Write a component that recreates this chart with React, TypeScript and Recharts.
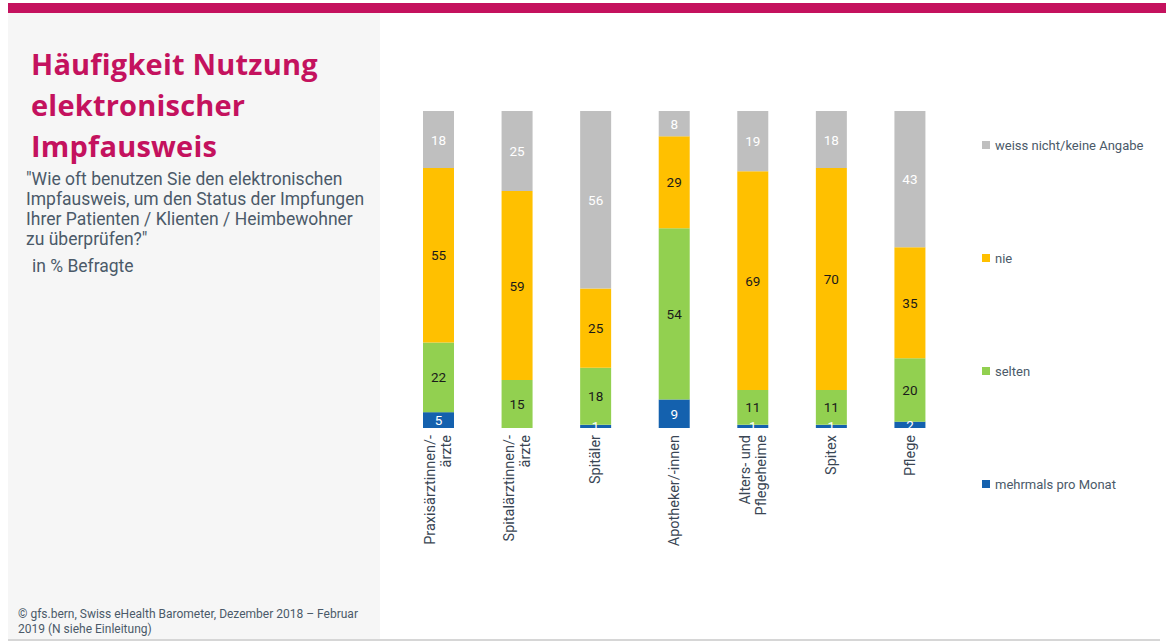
import React from "react";
import { BarChart, Bar, XAxis, YAxis, Legend, LabelList } from "recharts";

const categories = [
  "Praxisärztinnen/-\närzte",
  "Spitalärztinnen/-\närzte",
  "Spitäler",
  "Apotheker/-innen",
  "Alters- und\nPflegeheime",
  "Spitex",
  "Pflege",
];
const mehrmals = [5, 0, 1, 9, 1, 1, 2];
const selten = [22, 15, 18, 54, 11, 11, 20];
const nie = [55, 59, 25, 29, 69, 70, 35];
const weissNicht = [18, 25, 56, 8, 19, 18, 43];

const seriesDefs = [
  { key: "mehrmals", name: "mehrmals pro Monat", color: "#1461AE", text: "#ffffff" },
  { key: "selten", name: "selten", color: "#92D050", text: "#1a1a1a" },
  { key: "nie", name: "nie", color: "#FFC000", text: "#1a1a1a" },
  { key: "weiss", name: "weiss nicht/keine Angabe", color: "#BFBFBF", text: "#ffffff" },
];

const data = categories.map((name, i) => ({
  name,
  mehrmals: mehrmals[i],
  selten: selten[i],
  nie: nie[i],
  weiss: weissNicht[i],
}));

const FONT = "Roboto, 'Noto Sans', sans-serif";
const MAGENTA = "#C4125E";
const TEXT_GRAY = "#4B5A69";

const makeLabel = (fill: string) => (props: any) => {
  const { x, y, width, height, value } = props;
  const v = Number(value);
  if (!v) return null;
  return (
    <text
      x={Number(x) + Number(width) / 2}
      y={Number(y) + Number(height) / 2}
      textAnchor="middle"
      dominantBaseline="central"
      fill={fill}
      fontSize={13.5}
      fontFamily={FONT}
    >
      {v}
    </text>
  );
};

const Tick = (props: any) => {
  const { x, y, payload } = props;
  const lines = String(payload.value).split("\n");
  const lh = 16;
  const n = lines.length;
  return (
    <g transform={`translate(${x},${y})`}>
      <text transform="rotate(-90)" textAnchor="end" fontSize={14.5} fontFamily={FONT} fill="#3a4654">
        {lines.map((l, i) => (
          <tspan key={i} x={0} y={(i - (n - 1) / 2) * lh + 5}>
            {l}
          </tspan>
        ))}
      </text>
    </g>
  );
};

const LegendContent = () => {
  const order = [...seriesDefs].reverse();
  return (
    <div style={{ fontFamily: FONT, fontSize: 13, color: TEXT_GRAY }}>
      {order.map((s, i) => (
        <div
          key={s.key}
          style={{ display: "flex", alignItems: "center", height: 16, marginBottom: i < order.length - 1 ? 97 : 0 }}
        >
          <span style={{ width: 8, height: 8, background: s.color, display: "inline-block", marginRight: 5 }} />
          <span>{s.name}</span>
        </div>
      ))}
    </div>
  );
};

export default function App() {
  return (
    <div style={{ position: "absolute", left: 0, top: 0, width: 1166, height: 642, background: "#fff", overflow: "hidden" }}>
      <div style={{ position: "absolute", left: 8, top: 3, width: 1158, height: 10, background: MAGENTA }} />
      <div style={{ position: "absolute", left: 8, top: 13, width: 372, height: 626, background: "#F6F6F6" }} />
      <div style={{ position: "absolute", left: 8, top: 639, width: 1152, height: 2, background: "#D6D6D6" }} />
      <div
        style={{
          position: "absolute",
          left: 31,
          top: 43,
          fontFamily: "'Open Sans', sans-serif",
          fontWeight: 700,
          fontSize: 29,
          letterSpacing: 0.2,
          lineHeight: "41px",
          color: MAGENTA,
          whiteSpace: "nowrap",
        }}
      >
        Häufigkeit Nutzung
        <br />
        elektronischer
        <br />
        Impfausweis
      </div>
      <div
        style={{
          position: "absolute",
          left: 26,
          top: 169,
          fontFamily: FONT,
          fontSize: 17.5,
          lineHeight: "20px",
          color: TEXT_GRAY,
          whiteSpace: "nowrap",
        }}
      >
        "Wie oft benutzen Sie den elektronischen
        <br />
        Impfausweis, um den Status der Impfungen
        <br />
        Ihrer Patienten / Klienten / Heimbewohner
        <br />
        zu überprüfen?"
      </div>
      <div
        style={{
          position: "absolute",
          left: 32,
          top: 256,
          fontFamily: FONT,
          fontSize: 17.5,
          lineHeight: "20px",
          color: TEXT_GRAY,
          whiteSpace: "nowrap",
        }}
      >
        in % Befragte
      </div>
      <div
        style={{
          position: "absolute",
          left: 18,
          top: 607,
          fontFamily: FONT,
          fontSize: 12,
          lineHeight: "15px",
          color: TEXT_GRAY,
          whiteSpace: "nowrap",
        }}
      >
        © gfs.bern, Swiss eHealth Barometer, Dezember 2018 – Februar
        <br />
        2019 (N siehe Einleitung)
      </div>
      <div style={{ position: "absolute", left: 380, top: 0 }}>
        <BarChart
          width={786}
          height={642}
          data={data}
          stackOffset="expand"
          margin={{ top: 111, right: 33, bottom: 94, left: 19 }}
        >
          <XAxis
            dataKey="name"
            type="category"
            axisLine={false}
            tickLine={false}
            tickSize={0}
            tickMargin={7}
            height={120}
            interval={0}
            tick={<Tick />}
          />
          <YAxis hide domain={[0, 1]} />
          <Legend
            verticalAlign="top"
            align="right"
            layout="vertical"
            content={<LegendContent />}
            wrapperStyle={{ position: "absolute", left: 602, top: 137, width: 184 }}
          />
          {seriesDefs.map((s) => (
            <Bar
              key={s.key}
              dataKey={s.key}
              name={s.name}
              stackId="a"
              fill={s.color}
              barSize={31}
              isAnimationActive={false}
            >
              <LabelList dataKey={s.key} content={makeLabel(s.text)} />
            </Bar>
          ))}
        </BarChart>
      </div>
    </div>
  );
}
